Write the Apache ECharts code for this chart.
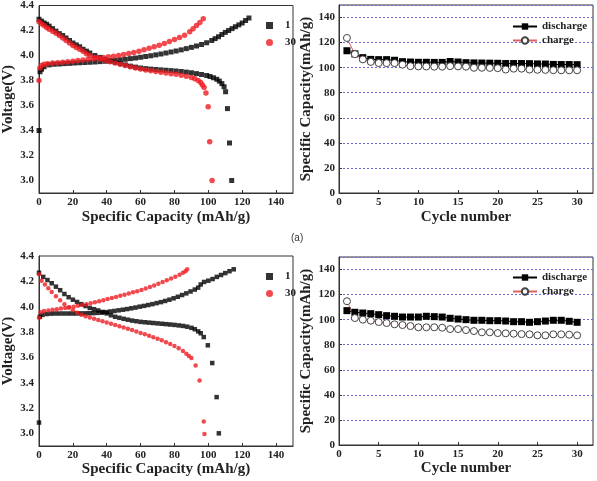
<!DOCTYPE html>
<html>
<head>
<meta charset="utf-8">
<script src="https://cdn.jsdelivr.net/npm/echarts@6/dist/echarts.min.js"></script>
<style>html,body{margin:0;padding:0;background:#fff;}#c{width:597px;height:481px;}</style>
</head>
<body>
<div id="c"></div>
<script>
// ---- Top-left: voltage profiles (mAh/g, V)
const topS1Charge = [[0,3.40],[0.6,3.87],[1.5,3.89],[3,3.91],[6,3.925],[9,3.93],[12,3.932],[15,3.935],[18,3.937],[21,3.94],[24,3.942],[27,3.944],[30,3.946],[33,3.948],[36,3.951],[39,3.954],[42,3.958],[45,3.962],[48,3.966],[51,3.97],[54,3.975],[57,3.98],[60,3.986],[63,3.992],[66,3.998],[69,4.005],[72,4.012],[75,4.02],[78,4.028],[81,4.036],[84,4.045],[87,4.055],[90,4.065],[93,4.076],[96,4.088],[99,4.102],[102,4.12],[104,4.135],[106,4.15],[108,4.168],[110,4.185],[112,4.2],[114,4.215],[116,4.23],[118,4.245],[120,4.26],[122,4.28],[124,4.30]];
const topS1Discharge = [[0,4.29],[1.5,4.275],[3,4.26],[4.5,4.25],[6,4.235],[8,4.215],[10,4.195],[12,4.175],[14,4.16],[16,4.14],[18,4.12],[20,4.10],[22,4.085],[24,4.07],[26,4.05],[28,4.035],[30,4.02],[33,4.0],[36,3.985],[39,3.97],[42,3.955],[45,3.945],[48,3.935],[51,3.925],[54,3.915],[57,3.907],[60,3.90],[63,3.895],[66,3.891],[69,3.888],[72,3.885],[75,3.882],[78,3.879],[81,3.876],[84,3.872],[87,3.867],[90,3.862],[93,3.855],[96,3.848],[99,3.84],[101,3.832],[103,3.822],[105,3.81],[106.5,3.795],[108,3.775],[109.3,3.75],[110.2,3.71],[111.3,3.575],[112.5,3.30],[113.8,3.00]];
const topS30Charge = [[0,3.80],[0.5,3.90],[1.5,3.92],[3,3.93],[5,3.935],[8,3.94],[11,3.943],[14,3.946],[17,3.95],[20,3.955],[23,3.96],[26,3.965],[29,3.97],[32,3.975],[35,3.98],[38,3.985],[41,3.99],[44,3.995],[47,4.0],[50,4.008],[53,4.016],[56,4.025],[59,4.035],[62,4.046],[65,4.058],[68,4.07],[71,4.083],[74,4.097],[77,4.112],[80,4.128],[83,4.145],[86,4.163],[89,4.19],[91,4.215],[93,4.24],[95,4.265],[97,4.295]];
const topS30Discharge = [[0,4.27],[1.5,4.255],[3,4.24],[4.5,4.225],[6,4.21],[8,4.195],[10,4.178],[12,4.16],[14,4.14],[16,4.12],[18,4.10],[20,4.08],[22,4.065],[24,4.05],[26,4.035],[28,4.015],[30,4.0],[33,3.985],[36,3.972],[39,3.96],[42,3.95],[45,3.94],[48,3.93],[51,3.92],[54,3.91],[57,3.90],[60,3.892],[63,3.885],[66,3.878],[69,3.872],[72,3.866],[75,3.86],[78,3.855],[81,3.85],[84,3.843],[87,3.835],[90,3.825],[92,3.815],[94,3.80],[95.5,3.785],[96.5,3.765],[97.5,3.745],[98.6,3.70],[99.9,3.59],[100.8,3.31],[102.2,3.00]];

// ---- Bottom-left: voltage profiles
const botS1Charge = [[0,3.085],[0.5,3.92],[2,3.935],[4.5,3.942],[7,3.945],[9.5,3.946],[12,3.946],[14.5,3.946],[17,3.946],[19.5,3.946],[22,3.946],[24.5,3.947],[27,3.947],[29.5,3.948],[32,3.949],[34.5,3.951],[37,3.953],[39.5,3.957],[42,3.962],[44.5,3.966],[47,3.971],[49.5,3.976],[52,3.981],[54.5,3.987],[57,3.993],[59.5,4.0],[62,4.006],[64.5,4.013],[67,4.02],[69.5,4.028],[72,4.036],[74.5,4.045],[77,4.055],[79.5,4.066],[82,4.078],[84.5,4.092],[87,4.105],[89.5,4.12],[92,4.135],[94,4.15],[95.5,4.175],[97.5,4.195],[100,4.205],[102.5,4.218],[105,4.235],[107.5,4.25],[110,4.265],[112.5,4.28],[115,4.295]];
const botS1Discharge = [[0,4.268],[2.5,4.235],[5,4.21],[7.5,4.185],[10,4.158],[12.5,4.13],[15,4.1],[17.5,4.075],[20,4.055],[22.5,4.037],[25,4.02],[27.5,4.005],[30,3.99],[32.5,3.98],[35,3.97],[37.5,3.958],[40,3.947],[42.5,3.932],[45,3.92],[47.5,3.912],[50,3.904],[52.5,3.897],[55,3.89],[57.5,3.885],[60,3.88],[62.5,3.877],[65,3.874],[67.5,3.871],[70,3.868],[72.5,3.865],[75,3.862],[77.5,3.859],[80,3.856],[82.5,3.852],[85,3.848],[87.5,3.842],[90,3.833],[92,3.822],[94,3.805],[95.5,3.79],[97.3,3.76],[99.7,3.695],[102.3,3.555],[104.9,3.286],[106.2,3.0]];
const botS30Charge = [[0,3.912],[1,3.955],[3,3.965],[5.5,3.97],[8,3.975],[10.5,3.98],[13,3.985],[15.5,3.99],[18,3.995],[20.5,4.0],[23,4.007],[25.5,4.013],[28,4.02],[30.5,4.027],[33,4.035],[35.5,4.043],[38,4.051],[40.5,4.06],[43,4.068],[45.5,4.077],[48,4.086],[50.5,4.095],[53,4.104],[55.5,4.113],[58,4.122],[60.5,4.132],[63,4.143],[65.5,4.155],[68,4.167],[70.5,4.18],[73,4.194],[75.5,4.208],[78,4.222],[80.5,4.237],[83,4.252],[85,4.267],[86.5,4.28],[87.5,4.295]];
const botS30Discharge = [[0,4.255],[1.5,4.205],[3.5,4.175],[5.5,4.145],[7.5,4.115],[10,4.083],[12.5,4.05],[15,4.02],[17.5,3.993],[20,3.972],[22.5,3.952],[25,3.937],[27.5,3.925],[30,3.914],[32.5,3.904],[35,3.894],[37.5,3.884],[40,3.875],[42.5,3.866],[45,3.856],[47.5,3.846],[50,3.836],[52.5,3.826],[55,3.815],[57.5,3.804],[60,3.793],[62.5,3.782],[65,3.77],[67.5,3.758],[70,3.747],[72.5,3.735],[75,3.72],[77.5,3.706],[80,3.69],[82.5,3.672],[85,3.65],[87,3.628],[88.5,3.61],[90,3.595],[92.5,3.536],[94.8,3.417],[97.3,3.093],[97.7,2.995]];

// ---- Right panels: cycling
const cycles = [1,2,3,4,5,6,7,8,9,10,11,12,13,14,15,16,17,18,19,20,21,22,23,24,25,26,27,28,29,30];
const topDischarge = [113.5,111,108,106.6,106.4,106.4,105.9,104.8,104.5,104.3,104.3,104.2,104.2,104.9,104.5,104,103.8,103.7,103.6,103.5,103.3,103.3,103.3,103.2,103,102.9,102.6,102.5,102.5,102.4];
const topCharge = [123.7,110.8,106.6,104.6,103.7,103.6,103.6,102.4,101.2,101,100.9,100.8,100.8,101.2,101,100.8,99.9,99.9,99.8,99.6,98.5,99.2,99.2,98.5,98.3,98.2,98,97.9,97.9,97.9];
const botDischarge = [107.2,105.9,105.3,104.8,104,103.2,102.7,102.1,102.1,102.1,102.7,102.4,102.1,101.1,100.5,100,99.5,99.5,99.2,99.2,98.9,98.4,98.4,97.9,98.4,98.9,99.5,99.5,98.7,97.9];
const botCharge = [114.7,101.3,100,99.2,98.1,97.3,96.3,95.7,94.9,93.9,93.9,93.9,93.6,92.5,92.5,91.7,90.9,89.9,89.9,89.3,89.1,88.8,88.5,88.3,87.5,87.5,88.3,88.3,88,87.5];

// ---- tick label sets
const voltTicks = [3.0,3.2,3.4,3.6,3.8,4.0,4.2,4.4];
const capTicks = [0,20,40,60,80,100,120,140];
const cycTicks = [0,5,10,15,20,25,30];

const FONT = 'Liberation Serif';
const RED = '#ee1c22';
const lab = {fontFamily: FONT, fontWeight: 'bold', fontSize: 11, color: '#222'};
const nameStyle = {fontFamily: FONT, fontWeight: 'bold', fontSize: 15, color: '#222'};
const axLine = {show: true, lineStyle: {color: '#333', width: 1}};
const tick = {show: true, inside: true, length: 3, lineStyle: {color: '#333'}};

function pair(xs, ys) { return xs.map((x, i) => [x, ys[i]]); }

const grids = [
  {left: 39, top: 5, width: 254, height: 188},
  {left: 339, top: 5, width: 254, height: 188},
  {left: 39, top: 256, width: 254, height: 190},
  {left: 339, top: 257, width: 254, height: 188}
].map(g => Object.assign(g, {show: true, borderColor: '#333', borderWidth: 1, containLabel: false}));

function capX(gi, gap) {
  return {type: 'value', gridIndex: gi, min: 0, max: 150, interval: 20,
    name: 'Specific Capacity (mAh/g)', nameLocation: 'middle', nameGap: gap, nameTextStyle: nameStyle,
    axisLine: axLine, splitLine: {show: false}, axisTick: tick,
    axisLabel: Object.assign({}, lab, {margin: 4, showMaxLabel: false,
      formatter: v => capTicks.indexOf(v) >= 0 ? String(v) : ''})};
}
function voltY(gi) {
  return {type: 'value', gridIndex: gi, min: 2.9, max: 4.4, interval: 0.1,
    name: 'Voltage(V)', nameLocation: 'middle', nameGap: 23, nameTextStyle: nameStyle,
    axisLine: axLine, splitLine: {show: false}, axisTick: {show: false},
    axisLabel: Object.assign({}, lab, {margin: 5, formatter: v => {
      const t = Math.round(v * 10) / 10;
      return voltTicks.some(k => Math.abs(k - t) < 1e-6) ? t.toFixed(1) : '';
    }})};
}
function cycX(gi, gap) {
  return {type: 'value', gridIndex: gi, min: 0, max: 32, interval: 5,
    name: 'Cycle number', nameLocation: 'middle', nameGap: gap, nameTextStyle: nameStyle,
    axisLine: axLine, splitLine: {show: false}, axisTick: tick,
    axisLabel: Object.assign({}, lab, {margin: 4, showMaxLabel: false,
      formatter: v => cycTicks.indexOf(v) >= 0 ? String(v) : ''})};
}
function capY(gi) {
  return {type: 'value', gridIndex: gi, min: 0, max: 150, interval: 20,
    name: 'Specific Capacity(mAh/g)', nameLocation: 'middle', nameGap: 25, nameTextStyle: nameStyle,
    axisLine: axLine,
    splitLine: {show: true, lineStyle: {color: '#6a6ad8', type: [2, 2], width: 1}},
    axisTick: tick,
    axisLabel: Object.assign({}, lab, {margin: 4, showMaxLabel: false, formatter: v => (v % 20 === 0 && v <= 140) ? String(v) : ''})};
}

function scat(name, data, gi, sym, size, color) {
  return {type: 'scatter', name: name, xAxisIndex: gi, yAxisIndex: gi, data: data,
    symbol: sym, symbolSize: size, itemStyle: {color: color}, silent: true};
}
function cyc(name, data, gi, isCharge) {
  return {type: 'line', name: name, xAxisIndex: gi, yAxisIndex: gi, data: data,
    symbol: isCharge ? 'circle' : 'rect', symbolSize: 7, showAllSymbol: true,
    itemStyle: isCharge ? {color: '#fff', borderColor: '#444', borderWidth: 1} : {color: '#000'},
    lineStyle: {color: isCharge ? '#e06060' : '#000', width: 1}, silent: true};
}

const legText = {fontFamily: FONT, fontWeight: 'bold', fontSize: 11, color: '#222'};
const legTextPad = Object.assign({}, legText, {padding: [0, 0, 0, 7]});

const option = {
  animation: false,
  backgroundColor: '#fff',
  grid: grids,
  xAxis: [capX(0, 17), cycX(1, 17), capX(2, 14), cycX(3, 14)],
  yAxis: [voltY(0), capY(1), voltY(2), capY(3)],
  legend: [
    {left: 261, top: 15, orient: 'vertical', itemGap: 6, itemWidth: 7, itemHeight: 7, data: ['1', '30'], textStyle: legTextPad, selectedMode: false},
    {left: 507, top: 16, orient: 'vertical', itemGap: 3, itemWidth: 24, itemHeight: 8, data: ['discharge', 'charge'], textStyle: legText, selectedMode: false},
    {left: 261, top: 266, orient: 'vertical', itemGap: 6, itemWidth: 7, itemHeight: 7, data: ['1', '30'], textStyle: legTextPad, selectedMode: false},
    {left: 507, top: 267, orient: 'vertical', itemGap: 3, itemWidth: 24, itemHeight: 8, data: ['discharge', 'charge'], textStyle: legText, selectedMode: false}
  ],
  graphic: [{type: 'text', left: 291, top: 233, style: {text: '(a)', font: '10px "Liberation Sans"', fill: '#333'}}],
  series: [
    scat('1', topS1Charge, 0, 'rect', 5, '#000'),
    scat('1', topS1Discharge, 0, 'rect', 5, '#000'),
    scat('30', topS30Charge, 0, 'circle', 5.5, RED),
    scat('30', topS30Discharge, 0, 'circle', 5.5, RED),
    cyc('discharge', pair(cycles, topDischarge), 1, false),
    cyc('charge', pair(cycles, topCharge), 1, true),
    scat('1', botS1Charge, 2, 'rect', 4.5, '#000'),
    scat('1', botS1Discharge, 2, 'rect', 4.5, '#000'),
    scat('30', botS30Charge, 2, 'circle', 4.5, RED),
    scat('30', botS30Discharge, 2, 'circle', 4.5, RED),
    cyc('discharge', pair(cycles, botDischarge), 3, false),
    cyc('charge', pair(cycles, botCharge), 3, true)
  ]
};
const chart = echarts.init(document.getElementById('c'), null, {renderer: 'canvas'});
chart.setOption(option);
</script>
</body>
</html>
